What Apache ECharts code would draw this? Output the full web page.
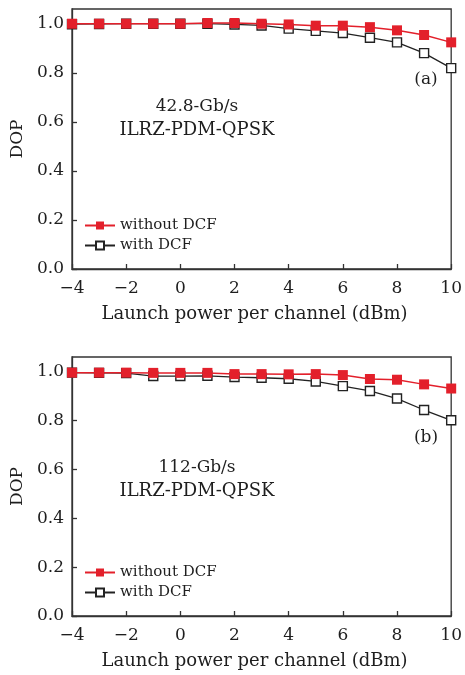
<!DOCTYPE html>
<html><head><meta charset="utf-8">
<script src="https://cdn.jsdelivr.net/npm/echarts@6/dist/echarts.min.js"></script>
<style>html,body{margin:0;padding:0;background:#fff}#c{width:465px;height:675px}</style>
</head><body><div id="c"></div>
<script>
const powers = [-4,-3,-2,-1,0,1,2,3,4,5,6,7,8,9,10];
const yTicks = [0,0.2,0.4,0.6,0.8,1.0];
const aWithout = [1.0,1.0,1.0,1.0,1.0,1.003,1.003,1.0,0.997,0.992,0.992,0.986,0.973,0.954,0.924];
const aWith    = [0.998,0.999,1.0,1.0,1.0,1.0,0.997,0.993,0.98,0.971,0.962,0.943,0.924,0.88,0.819];
const bWithout = [0.996,0.996,0.996,0.995,0.995,0.995,0.99,0.99,0.989,0.99,0.986,0.97,0.967,0.948,0.931];
const bWith    = [0.996,0.995,0.994,0.982,0.982,0.983,0.978,0.975,0.971,0.96,0.941,0.921,0.89,0.843,0.801];
const seriesNames = ['without DCF','with DCF'];
const panelLabels = ['(a)','(b)'];
const panelTexts = [['42.8-Gb/s','ILRZ-PDM-QPSK'],['112-Gb/s','ILRZ-PDM-QPSK']];
const xTitle = 'Launch power per channel (dBm)';
const yTitle = 'DOP';

const FONT = 'DejaVu Serif';
const RED = '#e3202b';
const TXT = '#1e1e1e';
const pair = (ys) => powers.map((x,i)=>[x,ys[i]]);

const grids = [
  {left:72, top:9, width:380, height:260},
  {left:72, top:357, width:380, height:259}
];
function xAxis(i){
  return {type:'value', gridIndex:i, min:-4, max:10, interval:2,
    name:xTitle, nameLocation:'middle', nameGap:36,
    nameTextStyle:{fontFamily:FONT, fontSize:18, color:TXT, padding:[0,14,0,0]},
    axisLine:{show:true, onZero:false, lineStyle:{color:'#333', width:1.3}},
    axisTick:{inside:true, length:5, lineStyle:{color:'#333', width:1.3}},
    axisLabel:{fontFamily:FONT, fontSize:17, color:TXT, margin:11,
      formatter:v=>String(v).replace('-','\u2212')},
    splitLine:{show:false}};
}
function yAxis(i){
  return {type:'value', gridIndex:i, min:0, max:1.06, interval:0.2,
    name:yTitle, nameLocation:'middle', nameGap:46, nameRotate:90,
    nameTextStyle:{fontFamily:FONT, fontSize:17, color:TXT},
    axisLine:{show:true, onZero:false, lineStyle:{color:'#333', width:1.3}},
    axisTick:{inside:true, length:5, lineStyle:{color:'#333', width:1.3},
      customValues: yTicks},
    axisLabel:{fontFamily:FONT, fontSize:17, color:TXT, margin:8,
      customValues: yTicks, formatter:v=>v.toFixed(1)},
    splitLine:{show:false}};
}
function mk(name, data, gi, red){
  return {name, type:'line', xAxisIndex:gi, yAxisIndex:gi, data:pair(data),
    symbol:'rect', symbolSize:red?10:9, clip:false, z: red?3:2,
    lineStyle:{color:red?RED:'#222', width:red?1.5:1.3},
    itemStyle:{color:red?RED:'#fff', borderColor:red?RED:'#222', borderWidth:red?0:1.4}};
}
const chart = echarts.init(document.getElementById('c'), null, {renderer:'canvas'});
const graphic = [];
const textPos = [{x:197, y1:107, y2:130, lx:426, ly:80},{x:197, y1:468, y2:491, lx:426, ly:438}];
textPos.forEach((p,i)=>{
  graphic.push({type:'text', x:p.x, y:p.y1, style:{text:panelTexts[i][0], fontFamily:FONT, fontSize:17, fill:TXT, textAlign:'center', textVerticalAlign:'middle'}});
  graphic.push({type:'text', x:p.x, y:p.y2, style:{text:panelTexts[i][1], fontFamily:FONT, fontSize:18, fill:TXT, textAlign:'center', textVerticalAlign:'middle'}});
  graphic.push({type:'text', x:p.lx, y:p.ly, style:{text:panelLabels[i], fontFamily:FONT, fontSize:17, fill:TXT, textAlign:'center', textVerticalAlign:'middle'}});
});
const legendCommon = {orient:'vertical', left:84, itemGap:5, itemWidth:30, itemHeight:10,
  textStyle:{fontFamily:FONT, fontSize:15, color:TXT}, padding:0};
chart.setOption({
  animation:false,
  grid: grids.map(g=>Object.assign({show:true, borderColor:'#333', borderWidth:1.3, containLabel:false}, g)),
  xAxis:[xAxis(0), xAxis(1)],
  yAxis:[yAxis(0), yAxis(1)],
  legend:[
    Object.assign({data:seriesNames, top:218}, legendCommon),
    Object.assign({data:seriesNames, top:565}, legendCommon)
  ],
  series:[mk(seriesNames[0], aWithout, 0, true), mk(seriesNames[1], aWith, 0, false),
          mk(seriesNames[0], bWithout, 1, true), mk(seriesNames[1], bWith, 1, false)],
  graphic
});
</script></body></html>
